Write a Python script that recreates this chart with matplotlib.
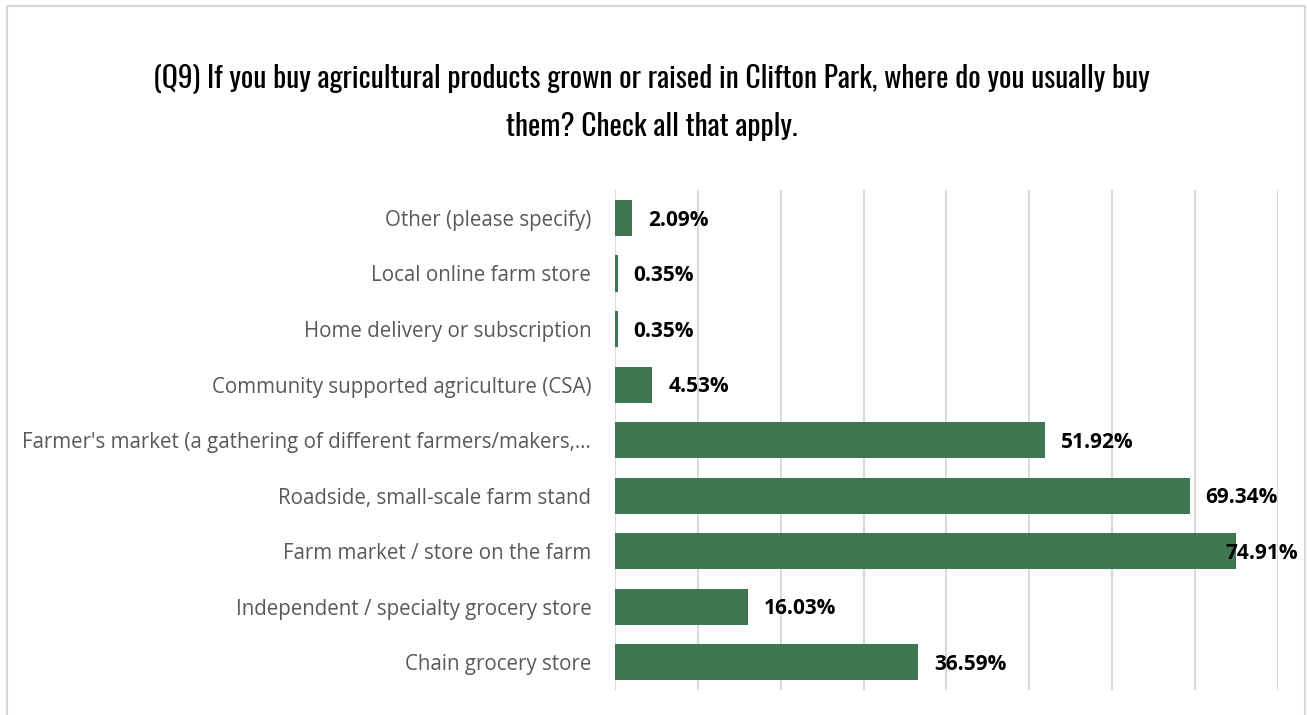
import matplotlib.pyplot as plt
from matplotlib.patches import Rectangle
from matplotlib import font_manager

categories = [
    "Chain grocery store",
    "Independent / specialty grocery store",
    "Farm market / store on the farm",
    "Roadside, small-scale farm stand",
    "Farmer's market (a gathering of different farmers/makers,…",
    "Community supported agriculture (CSA)",
    "Home delivery or subscription",
    "Local online farm store",
    "Other (please specify)",
]
percents = [36.59, 16.03, 74.91, 69.34, 51.92, 4.53, 0.35, 0.35, 2.09]
value_labels = ["36.59%", "16.03%", "74.91%", "69.34%", "51.92%",
                "4.53%", "0.35%", "0.35%", "2.09%"]

title = ("(Q9) If you buy agricultural products grown or raised in Clifton Park, where do you usually buy\n"
         "them? Check all that apply.")

names = {f.name for f in font_manager.fontManager.ttflist}
title_font = "DejaVu Sans"
for cand in ["Oswald", "Roboto Condensed", "Liberation Sans Narrow", "Open Sans Condensed"]:
    if cand in names:
        title_font = cand
        break
body_font = "Open Sans"

green = "#3f7752"
grid_c = "#d9d9d9"

fig = plt.figure(figsize=(13.07, 7.15), dpi=100)
ax = fig.add_axes([0.4705, 0.035, 0.5073, 0.699])

y = range(len(categories))
ax.barh(y, percents, height=0.65, color=green, zorder=3)
ax.set_xlim(0, 80)
ax.set_ylim(-0.5, len(categories) - 0.5)
ax.set_xticks(range(0, 81, 10))
ax.set_xticklabels([])
ax.tick_params(axis="x", length=0)
ax.tick_params(axis="y", length=0, pad=17)
ax.grid(axis="x", color=grid_c, linewidth=1.5, zorder=0)
ax.set_yticks(list(y))
ax.set_yticklabels(categories, fontsize=14.8, color="#595959", family=body_font)
for s in ax.spines.values():
    s.set_visible(False)

# value labels just past the bar end, kept inside the plot for the longest bar
for i, (v, lab) in enumerate(zip(percents, value_labels)):
    ax.text(min(v + 1.9, 73.7), i - 0.04, lab, va="center", ha="left",
            fontsize=15, fontweight="bold", color="black", family=body_font, zorder=4)

fig.text(0.4985, 0.857, title, ha="center", va="center", fontsize=21.2,
         family=title_font, stretch="condensed", color="black", linespacing=1.75)

# light frame around the chart
fig.patches.append(Rectangle((7 / 1307, -0.1), 1298 / 1307, 1.1 - 6 / 715,
                             transform=fig.transFigure, fill=False,
                             edgecolor=grid_c, linewidth=1.5))

fig.savefig("out.png", dpi=100, facecolor="white")
